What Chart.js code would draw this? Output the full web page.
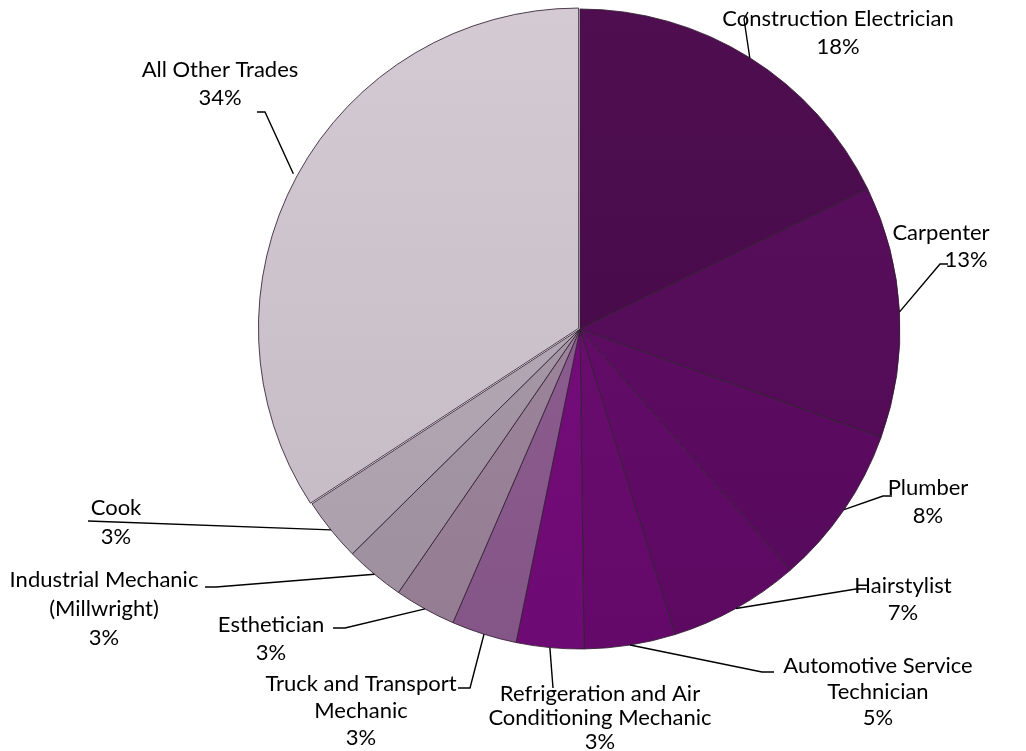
<!DOCTYPE html>
<html>
<head>
<meta charset="utf-8">
<script src="https://cdn.jsdelivr.net/npm/chart.js@4.4.0/dist/chart.umd.min.js"></script>
<style>
  html, body { margin: 0; padding: 0; background: #ffffff; }
  #wrap { width: 1026px; height: 751px; position: relative; }
</style>
</head>
<body>
<div id="wrap"><canvas id="c" width="1026" height="751"></canvas></div>
<script>
// ---- data ----
const categories = [
  "Construction Electrician",
  "Carpenter",
  "Plumber",
  "Hairstylist",
  "Automotive Service Technician",
  "Refrigeration and Air Conditioning Mechanic",
  "Truck and Transport Mechanic",
  "Esthetician",
  "Industrial Mechanic (Millwright)",
  "Cook",
  "All Other Trades"
];
const shares = [17.8, 12.7, 8.1, 6.6, 4.6, 3.4, 3.3, 3.1, 3.0, 3.2, 34.2];
const labelLines = [
  ["Construction Electrician"],
  ["Carpenter"],
  ["Plumber"],
  ["Hairstylist"],
  ["Automotive Service", "Technician"],
  ["Refrigeration and Air", "Conditioning Mechanic"],
  ["Truck and Transport", "Mechanic"],
  ["Esthetician"],
  ["Industrial Mechanic", "(Millwright)"],
  ["Cook"],
  ["All Other Trades"]
];

// ---- styles ----
const colors = ["#4a094c", "#560a5a", "#5d0a62", "#630a68", "#6a0a70", "#750b7b",
                "#8c5a90", "#9d859c", "#a898a8", "#b4a8b4", "#cfc5cf"];
const lightAmount = [0.02, 0.02, 0.02, 0.02, 0.02, 0.02, 0.05, 0.06, 0.06, 0.07, 0.08];

function shade(hex, f) {
  const n = parseInt(hex.slice(1), 16);
  let r = (n >> 16) & 255, g = (n >> 8) & 255, b = n & 255;
  const adj = c => f >= 0 ? Math.round(c + (255 - c) * f) : Math.round(c * (1 + f));
  return "rgb(" + adj(r) + "," + adj(g) + "," + adj(b) + ")";
}

// label layout: text centre x, first-line centre y, line height, leader path after slice edge
const labelLayout = [
  { x: 838, y: 19,  lh: 28, path: [[744, 19], [748, 12]] },
  { x: 941, y: 233, lh: 27, pctX: 966, path: [[940, 264], [948, 264]] },
  { x: 928, y: 488, lh: 28, path: [[883, 496], [892, 496]] },
  { x: 903, y: 586, lh: 27, path: [[856, 589], [866, 589]] },
  { x: 878, y: 666, lh: 26, path: [[762, 672], [774, 672]] },
  { x: 600, y: 694, lh: 24, path: [[553, 688]] },
  { x: 361, y: 684, lh: 27, path: [[470, 688], [458, 688]] },
  { x: 271, y: 625, lh: 28, path: [[345, 628], [333, 628]] },
  { x: 104, y: 580, lh: 29, path: [[216, 587], [205, 587]] },
  { x: 116, y: 508, lh: 29, path: [[88, 521]] },
  { x: 220, y: 70,  lh: 28, path: [[265, 112], [257, 112]] }
];

const labelPlugin = {
  id: "pieLabels",
  afterDatasetsDraw(chart) {
    const ctx = chart.ctx;
    const meta = chart.getDatasetMeta(0);
    const total = shares.reduce((a, b) => a + b, 0);
    ctx.save();
    ctx.strokeStyle = "#000";
    ctx.lineWidth = 1.4;
    meta.data.forEach((arc, i) => {
      const p = arc.getProps(["x", "y", "startAngle", "endAngle", "outerRadius"], true);
      const mid = (p.startAngle + p.endAngle) / 2;
      const off = arc.options.offset || 0;
      const cx = p.x + Math.cos(mid) * off;
      const cy = p.y + Math.sin(mid) * off;
      const sx = cx + Math.cos(mid) * p.outerRadius;
      const sy = cy + Math.sin(mid) * p.outerRadius;
      const L = labelLayout[i];
      ctx.beginPath();
      ctx.moveTo(sx, sy);
      L.path.forEach(pt => ctx.lineTo(pt[0], pt[1]));
      ctx.stroke();
    });
    ctx.fillStyle = "#000";
    ctx.font = "22px Lato, 'Open Sans', sans-serif";
    ctx.textAlign = "center";
    ctx.textBaseline = "middle";
    labelLines.forEach((lines, i) => {
      const L = labelLayout[i];
      const pct = Math.round(shares[i] / total * 100) + "%";
      lines.forEach((t, k) => ctx.fillText(t, L.x, L.y + k * L.lh));
      ctx.fillText(pct, L.pctX || L.x, L.y + lines.length * L.lh);
    });
    ctx.restore();
  }
};

new Chart(document.getElementById("c"), {
  type: "pie",
  data: {
    labels: categories,
    datasets: [{
      data: shares,
      backgroundColor: (c) => {
        const base = colors[c.dataIndex];
        const area = c.chart.chartArea;
        if (!area) return base;
        const g = c.chart.ctx.createLinearGradient(0, 9, 0, 649);
        g.addColorStop(0, shade(base, lightAmount[c.dataIndex]));
        g.addColorStop(1, shade(base, -0.06));
        return g;
      },
      borderColor: "rgba(50,30,50,0.85)",
      borderWidth: 1,
      offset: shares.map((v, i) => i === shares.length - 1 ? 6 : 0),
      radius: 320
    }]
  },
  options: {
    responsive: false,
    animation: false,
    layout: { padding: { left: 200, right: 66, top: 0, bottom: 93 } },
    plugins: { legend: { display: false }, tooltip: { enabled: false } }
  },
  plugins: [labelPlugin]
});
</script>
</body>
</html>
